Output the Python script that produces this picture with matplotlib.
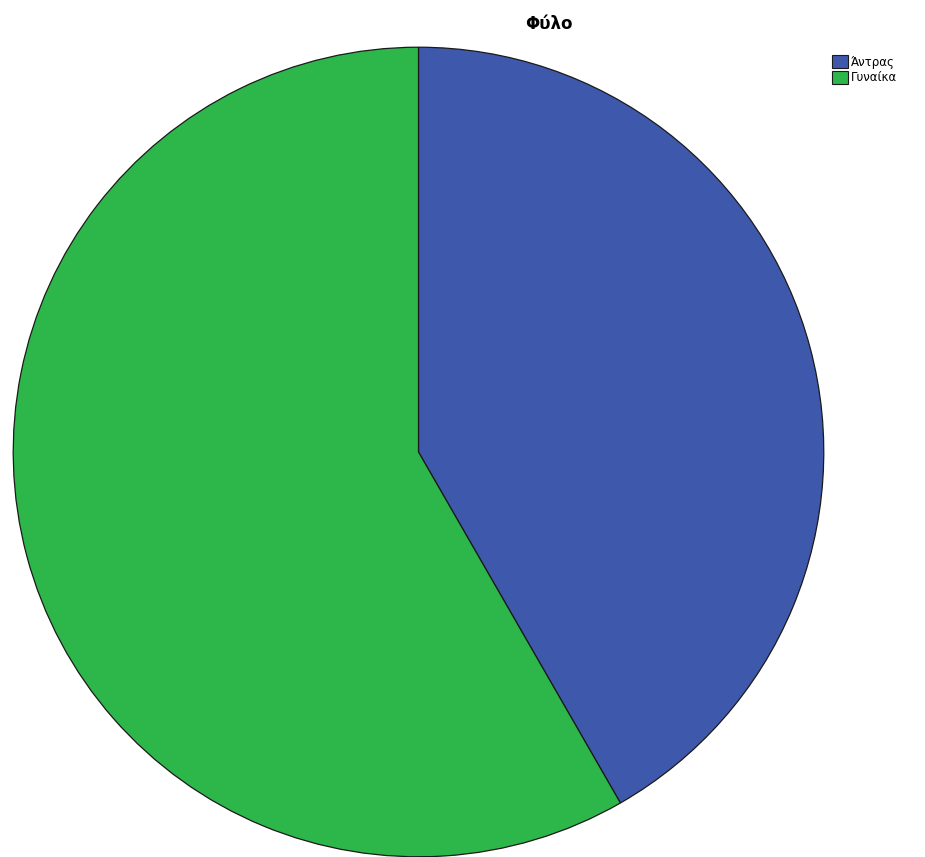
"""Pie chart: Φύλο (gender split)."""

import matplotlib.pyplot as plt
from matplotlib.patches import Patch

labels = ["Άντρας", "Γυναίκα"]
shares = [41.7, 58.3]
colors = ["#3e58ac", "#2db74a"]


def main() -> None:
    fig = plt.figure(figsize=(9.25, 8.57), dpi=100)
    W, H = 925, 857
    # pie spans x 12..825, y 46..858 in pixels
    ax = fig.add_axes([12 / W, (H - 858) / H, 813 / W, 812 / H])
    ax.pie(
        shares,
        colors=colors,
        startangle=90,
        counterclock=False,
        radius=1.0,
        wedgeprops=dict(edgecolor="#1a1a1a", linewidth=0.9),
    )
    ax.set_xlim(-1.003, 1.003)
    ax.set_ylim(-1.003, 1.003)
    ax.set_aspect("auto")
    ax.axis("off")

    fig.text(549 / W, 1 - 24 / H, "Φύλο", ha="center", va="center",
             fontsize=12, fontweight="bold")

    handles = [Patch(facecolor=c, edgecolor="#1a1a1a", linewidth=0.8) for c in colors]
    fig.legend(
        handles, labels,
        loc="upper left",
        bbox_to_anchor=(824 / W, 1 - 47 / H),
        frameon=False,
        fontsize=8.5,
        handlelength=1.3,
        handleheight=1.3,
        handletextpad=0.3,
        labelspacing=0.2,
        borderpad=0.2,
    )

    fig.savefig("out.png", dpi=100)
    plt.close(fig)


if __name__ == "__main__":
    main()
